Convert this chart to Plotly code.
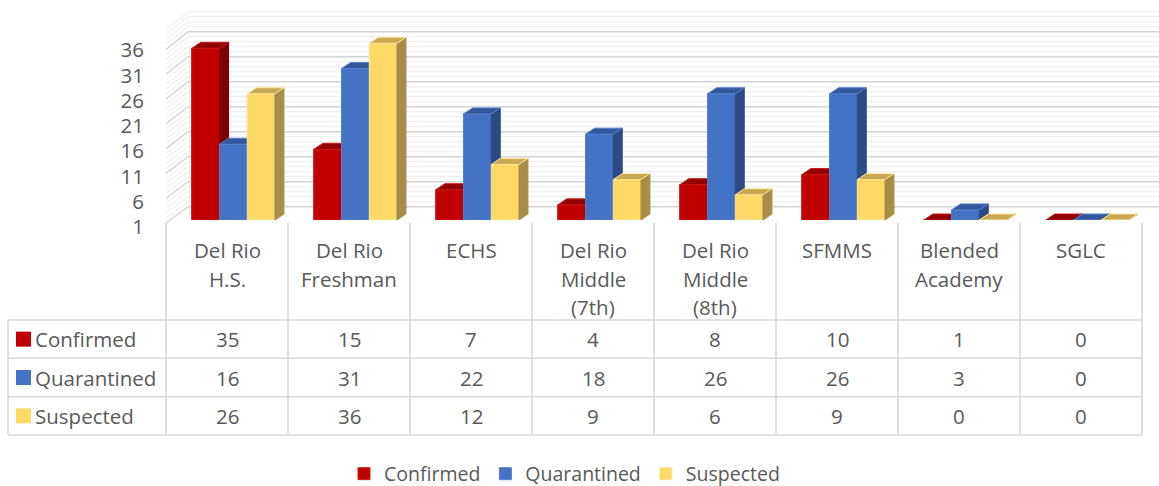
import numpy as np
import plotly.graph_objects as go

# ---------------- data ----------------
categories = ["Del Rio<br>H.S.", "Del Rio<br>Freshman", "ECHS", "Del Rio<br>Middle<br>(7th)",
              "Del Rio<br>Middle<br>(8th)", "SFMMS", "Blended<br>Academy", "SGLC"]
series_names = ["Confirmed", "Quarantined", "Suspected"]
confirmed = [35, 15, 7, 4, 8, 10, 1, 0]
quarantined = [16, 31, 22, 18, 26, 26, 3, 0]
suspected = [26, 36, 12, 9, 6, 9, 0, 0]
y_ticks = [1, 6, 11, 16, 21, 26, 31, 36]

# ---------------- style ----------------
front_colors = ["#C00000", "#4472C4", "#FFD966"]
top_colors = ["#930000", "#33589C", "#C9A852"]
side_colors = ["#7C0000", "#2C4A84", "#A88D46"]
edge_colors = ["#C81A1A", "#5580CC", "#FFE699"]
TXT = "#595959"
FONT = "Open Sans"
FS = 20.5
GRID_MAJOR = "#D4D4D4"
GRID_MINOR = "#F0F0F0"
TABLE_LINE = "#D9D9D9"

W, H = 1159, 486
COL0, COLW = 227.0, 122.0          # px centre of first category, px per category
BASE_PX, PPU = 220.0, 5.05         # px of axis minimum, px per value unit (front plane)
AXMIN = 1
BAR_W = 27.7 / COLW
GROUP_SHIFT = 6.4 / COLW
DEPTH_X = 9.0 / COLW
DEPTH_Y = 6.0 / PPU


def pxx(xp):
    return xp / W


def pxy(yp):
    return (H - yp) / H


def data_x(xp):
    return (xp - COL0) / COLW


x_range = [data_x(0), data_x(W)]
y_range = [AXMIN, AXMIN + BASE_PX / PPU]

series = [confirmed, quarantined, suspected]
idx = np.arange(len(categories))

fig = go.Figure()

# front faces as real bars (legend + semantics)
for k, (name, vals) in enumerate(zip(series_names, series)):
    fig.add_trace(go.Bar(
        x=idx + GROUP_SHIFT, y=vals, base=0, name=name,
        width=BAR_W, offset=-1.5 * BAR_W + k * BAR_W,
        marker=dict(color=front_colors[k], line=dict(color=edge_colors[k], width=1)),
        hoverinfo="skip",
    ))

# 3D faces, painted in depth order
for k, vals in enumerate(series):
    fx, fy, sx, sy, tx, ty = [], [], [], [], [], []
    for i, v in enumerate(vals):
        xl = i + GROUP_SHIFT - 1.5 * BAR_W + k * BAR_W
        xr = xl + BAR_W
        b = AXMIN
        t = max(v, AXMIN)
        fx += [xl, xr, xr, xl, xl, None]
        fy += [b, b, t, t, b, None]
        sx += [xr, xr + DEPTH_X, xr + DEPTH_X, xr, xr, None]
        sy += [b, b + DEPTH_Y, t + DEPTH_Y, t, b, None]
        tx += [xl, xr, xr + DEPTH_X, xl + DEPTH_X, xl, None]
        ty += [t, t, t + DEPTH_Y, t + DEPTH_Y, t, None]
    for xs, ys, col, lc in [(fx, fy, front_colors[k], edge_colors[k]),
                            (sx, sy, side_colors[k], side_colors[k]),
                            (tx, ty, top_colors[k], edge_colors[k])]:
        fig.add_trace(go.Scatter(x=xs, y=ys, mode="lines", fill="toself", fillcolor=col,
                                 line=dict(color=lc, width=1), showlegend=False,
                                 hoverinfo="skip", connectgaps=False))

shapes = []
annotations = []

# ---------------- walls (gridlines) ----------------
BACK_X0, BACK_X1 = 188.0, 1159.0
SIDE_X0 = 166.0
WALL_TOP = 40


def back_y(v):
    return 206.7 - 5.0 * (v - AXMIN)


def side_front_y(v):
    return 223.0 - 4.96 * (v - AXMIN)


for v in range(AXMIN, WALL_TOP + 1):
    major = (v - AXMIN) % 5 == 0
    col = GRID_MAJOR if major else GRID_MINOR
    wd = 1.4 if major else 1.2
    shapes.append(dict(type="line", xref="paper", yref="paper",
                       x0=pxx(BACK_X0), x1=pxx(BACK_X1), y0=pxy(back_y(v)), y1=pxy(back_y(v)),
                       line=dict(color=col, width=wd), layer="below"))
    shapes.append(dict(type="line", xref="paper", yref="paper",
                       x0=pxx(SIDE_X0), x1=pxx(BACK_X0), y0=pxy(side_front_y(v)), y1=pxy(back_y(v)),
                       line=dict(color=col, width=wd), layer="below"))

# ---------------- data table ----------------
TABLE_TOP = 223.0
ROW_Y = [320.0, 358.3, 396.7, 435.0]
TABLE_LEFT = 8.0
ncol = len(categories)
for c in range(ncol + 1):
    xp = COL0 + (c - 0.5) * COLW
    shapes.append(dict(type="line", xref="paper", yref="paper", x0=pxx(xp), x1=pxx(xp),
                       y0=pxy(TABLE_TOP), y1=pxy(ROW_Y[-1]),
                       line=dict(color=TABLE_LINE, width=1.6)))
shapes.append(dict(type="line", xref="paper", yref="paper", x0=pxx(TABLE_LEFT), x1=pxx(TABLE_LEFT),
                   y0=pxy(ROW_Y[0]), y1=pxy(ROW_Y[-1]), line=dict(color=TABLE_LINE, width=1.6)))
for yp in ROW_Y:
    shapes.append(dict(type="line", xref="paper", yref="paper", x0=pxx(TABLE_LEFT),
                       x1=pxx(COL0 + (ncol - 0.5) * COLW), y0=pxy(yp), y1=pxy(yp),
                       line=dict(color=TABLE_LINE, width=1.6)))

# header (category names)
for c, cat in enumerate(categories):
    for j, line in enumerate(cat.split("<br>")):
        annotations.append(dict(text=line, xref="paper", yref="paper",
                                x=pxx(COL0 + c * COLW), y=pxy(249.5 + 29 * j),
                                xanchor="center", yanchor="middle", showarrow=False,
                                font=dict(family=FONT, size=FS, color=TXT)))

# rows
for r, (name, vals) in enumerate(zip(series_names, series)):
    yc = (ROW_Y[r] + ROW_Y[r + 1]) / 2
    shapes.append(dict(type="rect", xref="paper", yref="paper",
                       x0=pxx(16), x1=pxx(31), y0=pxy(yc - 7.5), y1=pxy(yc + 7.5),
                       fillcolor=front_colors[r], line=dict(width=0)))
    annotations.append(dict(text=name, xref="paper", yref="paper", x=pxx(33), y=pxy(yc),
                            xanchor="left", yanchor="middle", showarrow=False,
                            font=dict(family=FONT, size=FS, color=TXT)))
    for c, v in enumerate(vals):
        annotations.append(dict(text=str(v), xref="paper", yref="paper",
                                x=pxx(COL0 + c * COLW), y=pxy(yc),
                                xanchor="center", yanchor="middle", showarrow=False,
                                font=dict(family=FONT, size=FS, color=TXT)))

fig.update_layout(
    width=W, height=H,
    margin=dict(l=0, r=0, t=0, b=0, autoexpand=False),
    paper_bgcolor="white", plot_bgcolor="rgba(0,0,0,0)",
    barmode="overlay",
    xaxis=dict(domain=[0, 1], range=x_range, visible=False, fixedrange=True),
    yaxis=dict(domain=[pxy(BASE_PX), 1], range=y_range, fixedrange=True,
               anchor="free", position=pxx(144), tickmode="array", tickvals=y_ticks,
               ticks="", showgrid=False, zeroline=False, showline=False,
               ticklabelshift=7, ticklabelstandoff=0,
               tickfont=dict(family=FONT, size=FS, color=TXT)),
    shapes=shapes, annotations=annotations,
    showlegend=True,
    legend=dict(orientation="h", x=0.5 - 15 / W, xanchor="center", y=pxy(474), yanchor="middle",
                font=dict(family=FONT, size=19.5, color=TXT), bgcolor="rgba(0,0,0,0)",
                traceorder="normal"),
    font=dict(family=FONT, color=TXT),
)

fig.write_html("out.html", config={"displayModeBar": False},
               post_script="document.body.style.margin='0';document.body.style.padding='0';")
